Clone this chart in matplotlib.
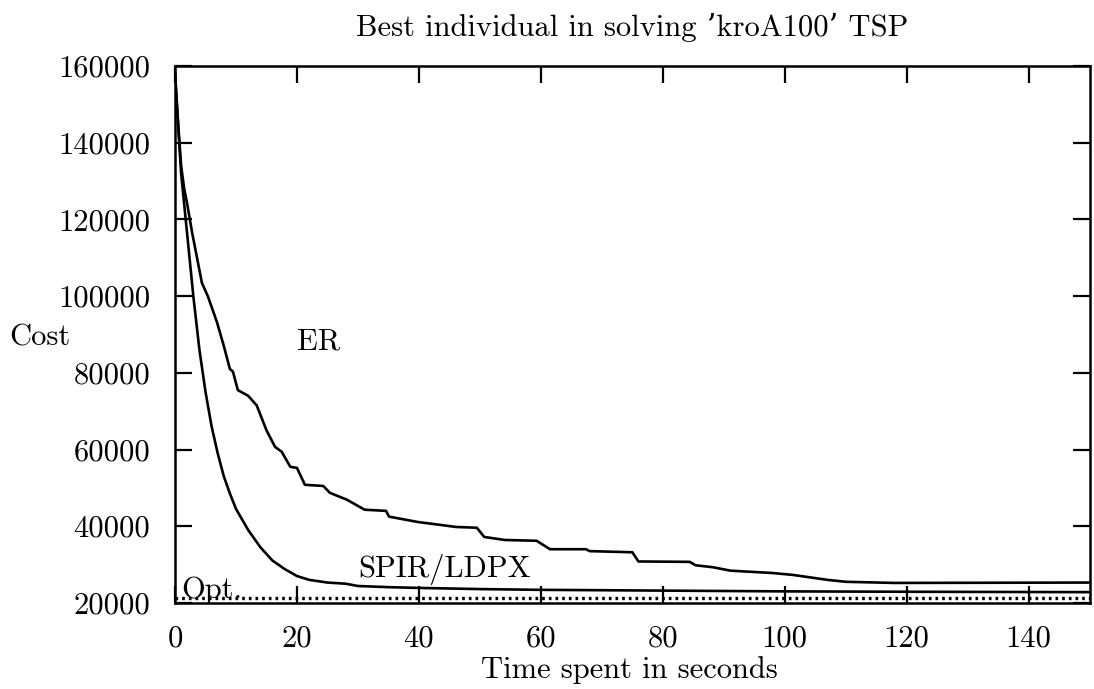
import matplotlib
matplotlib.use('Agg')
import matplotlib.pyplot as plt

# Время (с) и стоимость для ER
er_t = [0, 0.5, 1, 1.5, 2, 2.8, 4.4, 5.4, 6.9, 8, 9, 9.5, 10.3, 12, 13.4, 15,
        16.4, 17.5, 18.9, 20, 21.3, 24.3, 25.4, 28.2, 31.1, 34.6, 35.1, 39.8,
        46.1, 49.5, 50.7, 54.1, 59.3, 61, 61.5, 67.4, 68, 75, 76, 84.4, 85.4,
        88.2, 91.1, 97.9, 101.3, 107, 110, 118, 150]
er_cost = [158000, 145000, 134000, 128000, 124000, 116600, 103500, 99900,
           93100, 87000, 81000, 80300, 75500, 74000, 71500, 65000, 60700,
           59400, 55500, 55200, 50800, 50500, 48700, 46900, 44300, 44000,
           42500, 41100, 39800, 39600, 37200, 36400, 36200, 34500, 34000,
           34000, 33500, 33200, 30800, 30700, 29800, 29300, 28400, 27800,
           27300, 26000, 25500, 25200, 25300]

# Время (с) и стоимость для SPIR/LDPX
sp_t = [0, 0.5, 1, 2, 3, 4, 5, 6, 7, 8, 9, 10, 12, 14, 16, 18, 20, 22, 25,
        28, 30, 35, 40, 50, 60, 80, 100, 120, 150]
sp_cost = [158000, 145000, 132000, 116000, 100000, 86000, 75000, 66000,
           59000, 53000, 48500, 44500, 39000, 34500, 31000, 28800, 27000,
           26000, 25300, 25000, 24400, 24100, 23900, 23600, 23400, 23200,
           23000, 22900, 22800]

OPT = 21282
x_ticks = [0, 20, 40, 60, 80, 100, 120, 140]
y_ticks = [20000, 40000, 60000, 80000, 100000, 120000, 140000, 160000]


def main():
    plt.rcParams['font.family'] = ['cmr10', 'DejaVu Serif']
    plt.rcParams['axes.formatter.use_mathtext'] = True

    fig = plt.figure(figsize=(10.94, 6.89), dpi=100)
    ax = fig.add_axes([0.160, 0.125, 0.836, 0.779])

    ax.plot(er_t, er_cost, color='black', lw=1.9)
    ax.plot(sp_t, sp_cost, color='black', lw=1.9)
    ax.plot([0, 150], [OPT, OPT], color='black', lw=2.4, ls=(0, (0.8, 1.2)))

    ax.set_xlim(0, 150)
    ax.set_ylim(20000, 160000)
    ax.set_xticks(x_ticks)
    ax.set_yticks(y_ticks)
    ax.set_xticklabels([str(v) for v in x_ticks])
    ax.set_yticklabels([str(v) for v in y_ticks])
    ax.tick_params(direction='in', length=12, width=1.6, top=True, right=True,
                   labelsize=22)
    ax.tick_params(axis='x', pad=16)
    ax.tick_params(axis='y', pad=18)
    for sp in ax.spines.values():
        sp.set_linewidth(1.8)

    ax.set_title("Best individual in solving \u2019kroA100\u2019 TSP",
                 fontsize=22, pad=22)
    ax.set_xlabel('Time spent in seconds', fontsize=22)
    ax.xaxis.set_label_coords(0.497, -0.099)
    ax.set_ylabel('Cost', rotation=0, fontsize=22, va='center')
    ax.yaxis.set_label_coords(-0.148, 0.494)

    ax.text(23.5, 88100, 'ER', fontsize=22, ha='center', va='center')
    ax.text(30, 28600, 'SPIR/LDPX', fontsize=22, ha='left', va='center')
    ax.text(1.1, 23200, 'Opt.', fontsize=22, ha='left', va='center')

    fig.savefig('out.png', dpi=100)


if __name__ == '__main__':
    main()
